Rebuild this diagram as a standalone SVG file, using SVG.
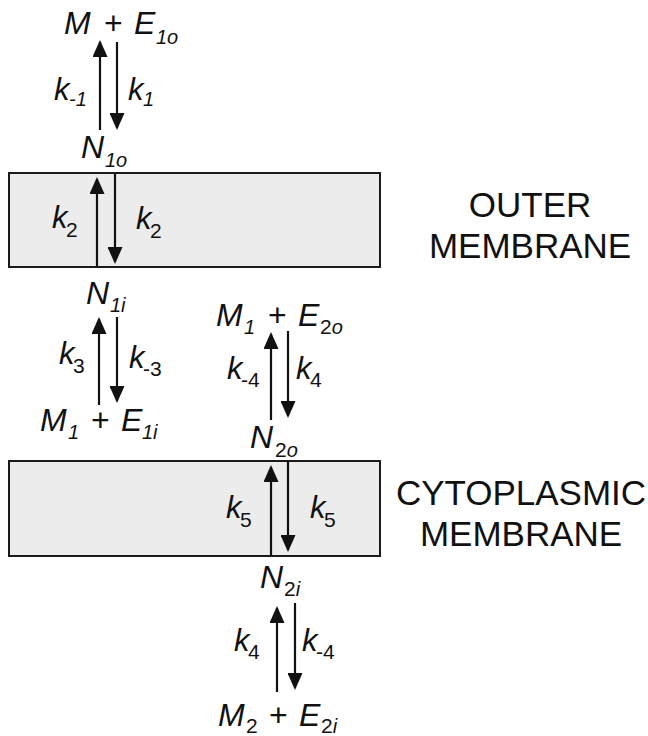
<svg xmlns="http://www.w3.org/2000/svg" width="648" height="736" viewBox="0 0 648 736">
<defs>
<style>
text{font-family:"Liberation Sans",Arial,sans-serif;fill:#111}
.it{font-style:italic;font-size:32px}
.rm{font-style:normal;font-size:32px}
.sb{font-style:italic;font-size:20px}
.su{font-style:normal;font-size:21px}
.k{font-style:italic;font-size:31px}
.lbl{font-size:35px;text-anchor:middle}
.mem{fill:#ececec;stroke:#1a1a1a;stroke-width:2}
.ar{stroke:#111;stroke-width:2.2;fill:none;marker-end:url(#ah)}
</style>
<marker id="ah" viewBox="0 0 17 15" markerWidth="17" markerHeight="15" refX="15" refY="7.5" orient="auto" markerUnits="userSpaceOnUse">
<path d="M0,0 L17,7.5 L0,15 z" fill="#111"/>
</marker>
</defs>

<g id="outer-membrane">
<rect class="mem" x="9" y="173" width="371" height="94"/>
<text class="lbl" x="530" y="217">OUTER</text>
<text class="lbl" x="530" y="258">MEMBRANE</text>
</g>

<g id="cytoplasmic-membrane">
<rect class="mem" x="9" y="461" width="371" height="95"/>
<text class="lbl" x="521" y="505">CYTOPLASMIC</text>
<text class="lbl" x="521" y="546">MEMBRANE</text>
</g>

<g id="M_E1o">
<text class="it" x="64" y="34">M</text>
<text class="rm" x="104" y="34">+</text>
<text class="it" x="134" y="34">E</text>
<text class="sb" x="156" y="44">1o</text>
</g>

<g id="N1o">
<text class="it" x="81" y="158">N</text>
<text class="sb" x="105" y="167">1o</text>
</g>

<g id="N1i">
<text class="it" x="86" y="304">N</text>
<text class="sb" x="110" y="312">1i</text>
</g>

<g id="M1_E1i">
<text class="it" x="40" y="431">M</text>
<text class="sb" x="68" y="439">1</text>
<text class="rm" x="91" y="431">+</text>
<text class="it" x="121" y="431">E</text>
<text class="sb" x="142" y="439">1i</text>
</g>

<g id="M1_E2o">
<text class="it" x="216" y="326">M</text>
<text class="sb" x="244" y="334">1</text>
<text class="rm" x="268" y="326">+</text>
<text class="it" x="298" y="326">E</text>
<text class="su" x="320" y="334">2<tspan class="sb">o</tspan></text>
</g>

<g id="N2o">
<text class="it" x="250" y="448">N</text>
<text class="su" x="275" y="457">2<tspan class="sb">o</tspan></text>
</g>

<g id="N2i">
<text class="it" x="260" y="588">N</text>
<text class="su" x="284" y="596">2<tspan class="sb">i</tspan></text>
</g>

<g id="M2_E2i">
<text class="it" x="218" y="726">M</text>
<text class="su" x="246" y="733">2</text>
<text class="rm" x="269" y="726">+</text>
<text class="it" x="299" y="726">E</text>
<text class="su" x="321" y="733">2<tspan class="sb">i</tspan></text>
</g>

<g id="connectors">
<line class="ar" x1="100" y1="130" x2="100" y2="42"/>
<line class="ar" x1="117" y1="42" x2="117" y2="128"/>
<line class="ar" x1="97" y1="267" x2="97" y2="179"/>
<line class="ar" x1="115" y1="174" x2="115" y2="262"/>
<line class="ar" x1="99" y1="405" x2="99" y2="319"/>
<line class="ar" x1="117" y1="317" x2="117" y2="401"/>
<line class="ar" x1="271" y1="420" x2="271" y2="334"/>
<line class="ar" x1="288" y1="331" x2="288" y2="416"/>
<line class="ar" x1="271" y1="556" x2="271" y2="467"/>
<line class="ar" x1="288" y1="461" x2="288" y2="550"/>
<line class="ar" x1="277" y1="692" x2="277" y2="608"/>
<line class="ar" x1="295" y1="603" x2="295" y2="688"/>
</g>

<g id="rate-labels">
<text class="k" x="54" y="100">k</text><text class="sb" x="69" y="106">-1</text>
<text class="k" x="128" y="100">k</text><text class="sb" x="143" y="106">1</text>
<text class="k" x="52" y="228">k</text><text class="su" x="66" y="237">2</text>
<text class="k" x="136" y="229">k</text><text class="su" x="150" y="238">2</text>
<text class="k" x="59" y="364">k</text><text class="su" x="73" y="373">3</text>
<text class="k" x="129" y="368">k</text><text class="su" x="143" y="376">-3</text>
<text class="k" x="227" y="379">k</text><text class="su" x="241" y="387">-4</text>
<text class="k" x="296" y="379">k</text><text class="su" x="310" y="387">4</text>
<text class="k" x="226" y="518">k</text><text class="su" x="240" y="527">5</text>
<text class="k" x="310" y="518">k</text><text class="su" x="324" y="527">5</text>
<text class="k" x="234" y="651">k</text><text class="su" x="248" y="659">4</text>
<text class="k" x="302" y="651">k</text><text class="su" x="316" y="659">-4</text>
</g>
</svg>
